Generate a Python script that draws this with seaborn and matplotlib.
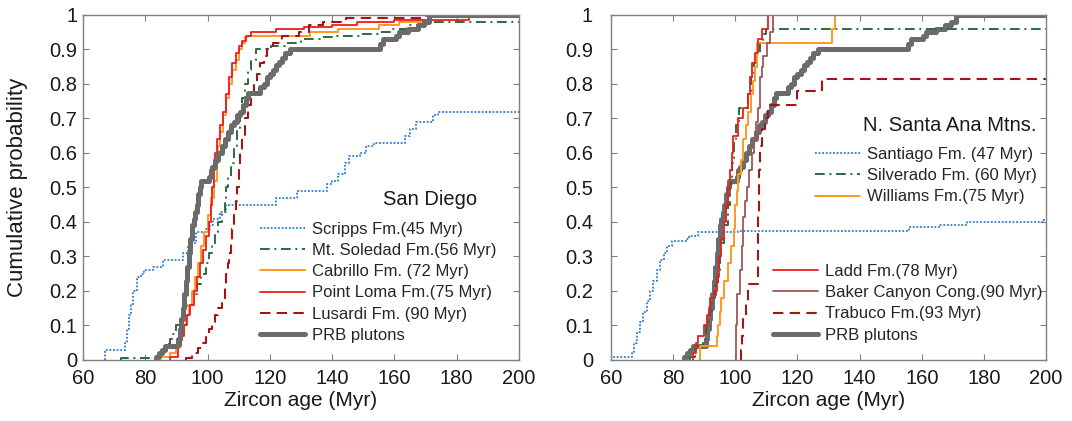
import numpy as np
import pandas as pd
import matplotlib
matplotlib.use('Agg')
import matplotlib.pyplot as plt
import seaborn as sns

# ---- step data: (age in Myr, cumulative probability after the step)
# San Diego
scripps_age = [67, 73.4, 74, 74.8, 75.5, 76.2, 77.3, 78.5, 79.5, 82.6, 85.8, 92, 93.7, 94.8, 96.4,
               99.6, 100.7, 101.8, 103.9, 106, 122, 128.8, 138.5, 140, 142, 144, 145.5, 149,
               151, 153.5, 163.3, 165, 167, 172.5, 174]
scripps_p = [0.03, 0.05, 0.09, 0.13, 0.16, 0.20, 0.24, 0.25, 0.26, 0.27, 0.29, 0.31, 0.33, 0.34, 0.37,
             0.38, 0.39, 0.41, 0.43, 0.45, 0.47, 0.49, 0.51, 0.52, 0.54, 0.57, 0.59, 0.60,
             0.62, 0.63, 0.65, 0.67, 0.69, 0.71, 0.72]

soledad_age = [72.3, 84.5, 85.5, 86.5, 88, 89, 90, 91, 92.5, 93.5, 95, 96.5, 98, 99.5, 100.5, 101.5,
               102.5, 103.5, 104.5, 105.5, 106, 106.5, 107.5, 108.5, 109.5, 110.5, 111, 112, 113,
               114, 115.5, 120.5, 125, 130, 136, 141.5, 149, 155, 159, 165, 170.5]
soledad_p = [0.005, 0.015, 0.03, 0.045, 0.06, 0.075, 0.10, 0.125, 0.15, 0.16, 0.19, 0.22, 0.25, 0.28,
             0.31, 0.34, 0.37, 0.40, 0.43, 0.46, 0.50, 0.53, 0.57, 0.62, 0.67, 0.72, 0.76, 0.80,
             0.84, 0.87, 0.90, 0.91, 0.92, 0.93, 0.935, 0.94, 0.945, 0.95, 0.96, 0.97, 0.98]

cabrillo_age = [83, 84.5, 88, 90, 91, 92, 93, 94, 95, 96, 97, 98, 99, 100, 101, 102, 103, 103.5, 104,
                105, 106, 107, 108, 109, 110, 111, 112, 113, 133, 142, 155, 161.5, 171]
cabrillo_p = [0.005, 0.01, 0.02, 0.04, 0.07, 0.10, 0.13, 0.16, 0.20, 0.24, 0.28, 0.33, 0.37, 0.42,
              0.47, 0.52, 0.57, 0.62, 0.66, 0.71, 0.76, 0.80, 0.84, 0.87, 0.90, 0.92, 0.935, 0.94,
              0.95, 0.96, 0.97, 0.98, 1.0]

ptloma_age = [88, 90.5, 91.5, 92.5, 93.5, 94.5, 95.5, 96.5, 97.5, 98.5, 99.5, 100.5, 101, 101.5, 102,
              102.5, 103, 104, 105, 106, 107, 108, 109, 110, 111, 112.5, 114, 122, 131, 140, 148,
              160, 184]
ptloma_p = [0.01, 0.04, 0.07, 0.10, 0.13, 0.16, 0.20, 0.24, 0.28, 0.32, 0.36, 0.40, 0.45, 0.50, 0.55,
            0.60, 0.64, 0.68, 0.72, 0.77, 0.82, 0.86, 0.89, 0.91, 0.925, 0.94, 0.95, 0.96, 0.965,
            0.97, 0.98, 0.985, 1.0]

lusardi_age = [93, 95, 97, 98.5, 99.5, 100.5, 101.5, 102.5, 103.5, 104.5, 105.5, 106, 106.5, 107,
               107.5, 108, 108.5, 109, 109.5, 110, 110.5, 111, 112, 113, 114, 115, 116, 117, 118,
               119, 121, 124, 129.5, 132.5, 137, 144.5, 170]
lusardi_p = [0.005, 0.02, 0.035, 0.05, 0.075, 0.09, 0.11, 0.13, 0.15, 0.18, 0.22, 0.25, 0.28, 0.31,
             0.34, 0.38, 0.42, 0.46, 0.50, 0.55, 0.60, 0.65, 0.70, 0.74, 0.77, 0.80, 0.83, 0.86,
             0.88, 0.90, 0.92, 0.94, 0.95, 0.97, 0.98, 0.99, 1.0]

# PRB plutons (same in both panels)
prb_age = [83.5, 84.5, 85.5, 86.5, 90.5, 91, 91.5, 92, 92.5, 93, 93.5, 94, 94.5, 95, 95.5, 96, 96.5,
           97, 97.5, 98, 100.5, 101, 101.5, 102.5, 103.5, 104.5, 105.5, 106.5, 107.5, 108.5, 109.5,
           110.5, 111.5, 112.5, 113, 117, 118, 119, 120, 121, 122, 123, 124, 125, 126.5, 155.5,
           156.5, 160.5, 161.5, 164.5, 167.5, 169.5, 171]
prb_p = [0.01, 0.02, 0.03, 0.04, 0.06, 0.09, 0.12, 0.15, 0.19, 0.23, 0.27, 0.31, 0.35, 0.39, 0.41,
         0.43, 0.45, 0.48, 0.50, 0.52, 0.53, 0.55, 0.56, 0.58, 0.60, 0.62, 0.64, 0.66, 0.68, 0.69,
         0.71, 0.72, 0.74, 0.76, 0.775, 0.79, 0.80, 0.82, 0.83, 0.84, 0.855, 0.865, 0.875, 0.89,
         0.90, 0.915, 0.93, 0.94, 0.95, 0.96, 0.97, 0.98, 1.0]

# N. Santa Ana Mtns.
santiago_age = [50, 66.7, 67.5, 68.3, 69.3, 70.3, 71.5, 72.5, 73.5, 74.7, 75.8, 77, 78, 79.5, 84,
                85, 88, 101, 156, 166, 174.5, 199]
santiago_p = [0.01, 0.02, 0.05, 0.08, 0.11, 0.14, 0.17, 0.20, 0.23, 0.26, 0.29, 0.31, 0.33, 0.345,
              0.35, 0.36, 0.37, 0.375, 0.385, 0.39, 0.40, 0.405]

silverado_age = [85.4, 87, 89.5, 90.5, 91.5, 92.5, 93.5, 94.5, 95, 95.5, 96.5, 97.5, 98.3, 99, 99.5,
                 100.3, 101.3, 104.2, 105, 106, 107, 108, 109, 110]
silverado_p = [0.01, 0.04, 0.06, 0.10, 0.14, 0.18, 0.22, 0.26, 0.30, 0.34, 0.39, 0.45, 0.51, 0.57,
               0.63, 0.68, 0.73, 0.78, 0.82, 0.86, 0.89, 0.92, 0.945, 0.96]

williams_age = [88.6, 94, 94.5, 95, 95.5, 96.5, 97.5, 98.5, 99.5, 100, 100.5, 101, 101.8, 102.6,
                103.4, 104.2, 105, 105.6, 106.3, 106.9, 131, 132]
williams_p = [0.04, 0.07, 0.10, 0.14, 0.18, 0.23, 0.28, 0.33, 0.38, 0.45, 0.49, 0.54, 0.58, 0.64,
              0.68, 0.72, 0.77, 0.81, 0.85, 0.92, 0.96, 1.0]

ladd_age = [86.5, 87.5, 88, 90, 91, 92, 93, 94, 94.8, 95.5, 96.3, 97, 97.5, 98.3, 98.8, 99.2, 101,
            102.5, 104, 104.7, 105.5, 106.3, 107.3, 108.5, 110.5]
ladd_p = [0.02, 0.05, 0.07, 0.10, 0.13, 0.18, 0.20, 0.24, 0.30, 0.35, 0.40, 0.45, 0.50, 0.55, 0.60,
          0.65, 0.70, 0.73, 0.77, 0.82, 0.86, 0.89, 0.93, 0.96, 1.0]

baker_age = [100.3, 100.5, 101.5, 102, 102.6, 103.2, 103.7, 104.5, 105.3, 106, 106.8, 107.3, 107.9,
             108.5, 109, 110.1, 111.2, 112]
baker_p = [0.10, 0.19, 0.26, 0.33, 0.415, 0.46, 0.50, 0.55, 0.60, 0.64, 0.69, 0.73, 0.82, 0.85,
           0.88, 0.92, 0.95, 1.0]

trabuco_age = [101.8, 102.1, 102.6, 103.5, 104.2, 107.2, 107.4, 107.6, 107.8, 108.5, 109.5, 110.5,
               119.8, 127.8]
trabuco_p = [0.03, 0.07, 0.13, 0.17, 0.22, 0.30, 0.42, 0.55, 0.62, 0.67, 0.70, 0.74, 0.78, 0.815]

C_BLUE = '#2a7ad2'
C_GREEN = '#2b6b3c'
C_ORANGE = '#ff9a22'
C_RED = '#ee1b1b'
C_DRED = '#a31414'
C_BROWN = '#9e5757'
C_GRAY = '#6b6b6b'

DOT = (0, (1, 1))
DASHDOT = (0, (5, 2.4, 1, 2.4))
DASH = (0, (5, 3))


def draw_step(ax, ages, probs, **kw):
    x = [ages[0]] + list(ages) + [215]
    y = [0] + list(probs) + [probs[-1]]
    sns.lineplot(x=x, y=y, ax=ax, drawstyle='steps-post', estimator=None, sort=False, **kw)


sns.set_style('ticks')
plt.rcParams['font.family'] = ['Liberation Sans', 'DejaVu Sans']

fig = plt.figure(figsize=(10.72, 4.21), dpi=100)
ax1 = fig.add_axes([0.0774, 0.1449, 0.4067, 0.8195])
ax2 = fig.add_axes([0.570, 0.1449, 0.4058, 0.8195])

# left panel: San Diego
draw_step(ax1, scripps_age, scripps_p, color=C_BLUE, lw=1.3, linestyle=DOT, label='Scripps Fm.(45 Myr)')
draw_step(ax1, soledad_age, soledad_p, color=C_GREEN, lw=1.4, linestyle=DASHDOT, label='Mt. Soledad Fm.(56 Myr)')
draw_step(ax1, cabrillo_age, cabrillo_p, color=C_ORANGE, lw=1.4, label='Cabrillo Fm. (72 Myr)')
draw_step(ax1, ptloma_age, ptloma_p, color=C_RED, lw=1.3, label='Point Loma Fm.(75 Myr)')
draw_step(ax1, lusardi_age, lusardi_p, color=C_DRED, lw=1.5, linestyle=DASH, label='Lusardi Fm. (90 Myr)')
draw_step(ax1, prb_age, prb_p, color=C_GRAY, lw=3.6, label='PRB plutons')

# right panel: N. Santa Ana Mtns.
draw_step(ax2, santiago_age, santiago_p, color=C_BLUE, lw=1.3, linestyle=DOT, label='Santiago Fm. (47 Myr)')
draw_step(ax2, prb_age, prb_p, color=C_GRAY, lw=3.6, label='PRB plutons')
draw_step(ax2, silverado_age, silverado_p, color=C_GREEN, lw=1.4, linestyle=DASHDOT, label='Silverado Fm. (60 Myr)')
draw_step(ax2, williams_age, williams_p, color=C_ORANGE, lw=1.4, label='Williams Fm.(75 Myr)')
draw_step(ax2, ladd_age, ladd_p, color=C_RED, lw=1.3, label='Ladd Fm.(78 Myr)')
draw_step(ax2, baker_age, baker_p, color=C_BROWN, lw=1.3, label='Baker Canyon Cong.(90 Myr)')
draw_step(ax2, trabuco_age, trabuco_p, color=C_DRED, lw=1.5, linestyle=DASH, label='Trabuco Fm.(93 Myr)')

leg_kw = dict(frameon=False, fontsize=12, handlelength=2.7, handletextpad=0.4,
              labelspacing=0.37, borderpad=0, borderaxespad=0, loc='upper left')

for ax in (ax1, ax2):
    ax.set_xlim(60, 200)
    ax.set_ylim(0, 1)
    ax.set_xticks(np.arange(60, 201, 20))
    ax.set_yticks(np.arange(0, 1.01, 0.1))
    ax.set_yticklabels(['0'] + ['%.1f' % v for v in np.arange(0.1, 0.95, 0.1)] + ['1'])
    ax.tick_params(direction='in', top=True, right=True, length=4, width=0.8,
                   color='#808080', labelsize=14.5, labelcolor='#1a1a1a')
    ax.tick_params(axis='x', pad=6.5)
    for sp in ax.spines.values():
        sp.set_color('#808080')
        sp.set_linewidth(1.0)
    ax.set_xlabel('Zircon age (Myr)', fontsize=15, color='#1a1a1a', labelpad=2)
    ax.set_ylabel('')

ax1.tick_params(axis='y', pad=4)
ax2.tick_params(axis='y', pad=13)

ax1.set_ylabel('Cumulative probability', fontsize=16, color='#1a1a1a')
ax1.yaxis.set_label_coords(-0.125, 0.5)

h1, l1 = ax1.get_legend_handles_labels()
ax1.legend(h1, l1, bbox_to_anchor=(0.406, 0.40), **leg_kw)
ax1.text(0.796, 0.464, 'San Diego', transform=ax1.transAxes, fontsize=14.5,
         ha='center', va='center', color='#1a1a1a')

h2, l2 = ax2.get_legend_handles_labels()
lab = dict(zip(l2, h2))
top_names = ['Santiago Fm. (47 Myr)', 'Silverado Fm. (60 Myr)', 'Williams Fm.(75 Myr)']
bot_names = ['Ladd Fm.(78 Myr)', 'Baker Canyon Cong.(90 Myr)', 'Trabuco Fm.(93 Myr)', 'PRB plutons']
leg_top = ax2.legend([lab[n] for n in top_names], top_names, bbox_to_anchor=(0.469, 0.617), **leg_kw)
ax2.add_artist(leg_top)
ax2.legend([lab[n] for n in bot_names], bot_names, bbox_to_anchor=(0.372, 0.278), **leg_kw)
ax2.text(0.779, 0.68, 'N. Santa Ana Mtns.', transform=ax2.transAxes, fontsize=14.5,
         ha='center', va='center', color='#1a1a1a')

fig.savefig('out.png', dpi=100)
